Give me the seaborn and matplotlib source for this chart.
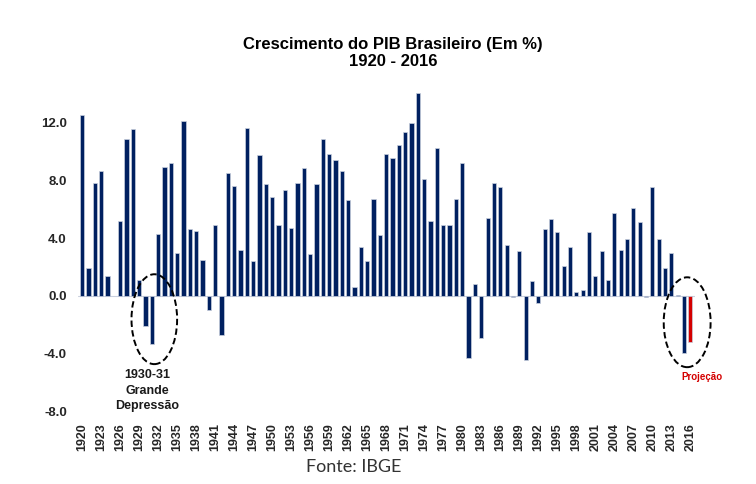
import matplotlib
matplotlib.use("Agg")
import matplotlib.pyplot as plt
from matplotlib.patches import Ellipse
import seaborn as sns
import pandas as pd

years = list(range(1920, 2017))
growth = [
    12.5, 1.9, 7.8, 8.6, 1.4, 0.0, 5.2, 10.8, 11.5, 1.1,   # 1920-1929
    -2.1, -3.3, 4.3, 8.9, 9.2, 3.0, 12.1, 4.6, 4.5, 2.5,   # 1930-1939
    -1.0, 4.9, -2.7, 8.5, 7.6, 3.2, 11.6, 2.4, 9.7, 7.7,   # 1940-1949
    6.8, 4.9, 7.3, 4.7, 7.8, 8.8, 2.9, 7.7, 10.8, 9.8,     # 1950-1959
    9.4, 8.6, 6.6, 0.6, 3.4, 2.4, 6.7, 4.2, 9.8, 9.5,      # 1960-1969
    10.4, 11.3, 11.9, 14.0, 8.1, 5.2, 10.2, 4.9, 4.9, 6.7, # 1970-1979
    9.2, -4.3, 0.8, -2.9, 5.4, 7.8, 7.5, 3.5, -0.1, 3.1,   # 1980-1989
    -4.4, 1.0, -0.5, 4.6, 5.3, 4.4, 2.1, 3.4, 0.3, 0.4,    # 1990-1999
    4.4, 1.4, 3.1, 1.1, 5.7, 3.2, 3.9, 6.1, 5.1, -0.1,     # 2000-2009
    7.5, 3.9, 1.9, 3.0, 0.1, -3.9, -3.2,                   # 2010-2016
]
kind = ["Realizado"] * 96 + ["Projeção"]
tick_years = list(range(1920, 2017, 3))
y_ticks = [-8.0, -4.0, 0.0, 4.0, 8.0, 12.0]

title = "Crescimento do PIB Brasileiro (Em %)\n1920 - 2016"
note_depression = "1930-31\nGrande\nDepressão"
note_projection = "Projeção"
source = "Fonte: IBGE"

NAVY = "#002060"
RED = "#d40000"

df = pd.DataFrame({"ano": [str(y) for y in years], "pib": growth, "tipo": kind})

sns.set_theme(style="white")
plt.rcParams["font.family"] = ["Liberation Sans", "DejaVu Sans"]

fig = plt.figure(figsize=(7.56, 4.84), dpi=100)
ax = fig.add_axes([0.103, 0.1488, 0.816, 0.665])

sns.barplot(data=df, x="ano", y="pib", hue="tipo",
            palette={"Realizado": NAVY, "Projeção": RED},
            dodge=False, width=0.68, legend=False, ax=ax,
            edgecolor="#c9d0de", linewidth=0.5, saturation=1)

ax.axhline(0, color="#c9d0de", lw=0.8, zorder=0)
ax.set_xlim(-0.7, 96.7)
ax.set_ylim(-8, 14.2)
ax.set_yticks(y_ticks)
ax.set_yticklabels([f"{v:.1f}" for v in y_ticks], fontweight="bold", fontsize=9.5)
pos = [years.index(y) for y in tick_years]
ax.set_xticks(pos)
ax.set_xticklabels([str(y) for y in tick_years], rotation=90,
                   fontweight="bold", fontsize=9)
ax.tick_params(axis="x", length=0, pad=8)
ax.tick_params(axis="y", length=0, pad=8)
ax.set_xlabel("")
ax.set_ylabel("")
for s in ax.spines.values():
    s.set_visible(False)

ax.add_patch(Ellipse((11.37, -1.6), 7.2, 6.2, fill=False, ec="black",
                     lw=1.4, ls=(0, (3.3, 1.7)), clip_on=False))
ax.add_patch(Ellipse((95.5, -1.81), 7.4, 6.2, fill=False, ec="black",
                     lw=1.4, ls=(0, (3.3, 1.7)), clip_on=False))

fig.text(147.3 / 756, 1 - 390.5 / 484, note_depression, ha="center", va="center",
         fontsize=9, fontweight="bold", color="#1a1a1a", linespacing=1.35)
fig.text(702.3 / 756, 1 - 377.3 / 484, note_projection, ha="center", va="center",
         fontsize=7, fontweight="bold", color=RED)
fig.text(393 / 756, 1 - 53 / 484, title, ha="center", va="center",
         fontsize=12, fontweight="bold", color="black", linespacing=1.2)
fig.text(354 / 756, 1 - 467 / 484, source, ha="center", va="center",
         fontsize=13, color="#333333", family=["Lato", "DejaVu Sans"])

fig.savefig("out.png", dpi=100)
